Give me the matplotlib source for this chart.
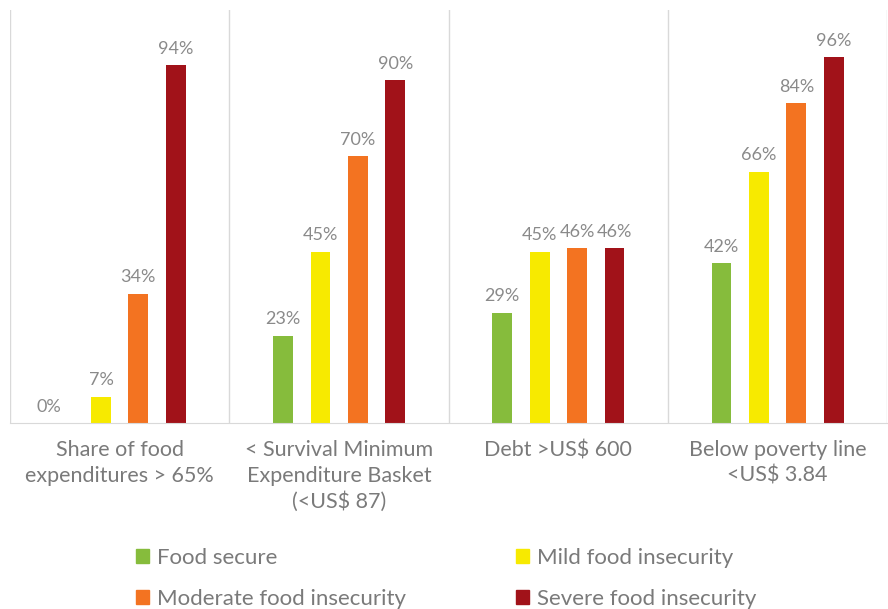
import matplotlib
matplotlib.use("Agg")
import matplotlib.pyplot as plt
import numpy as np
from matplotlib.patches import Patch

categories = ["Share of food\nexpenditures > 65%",
              "< Survival Minimum\nExpenditure Basket\n(<US$ 87)",
              "Debt >US$ 600",
              "Below poverty line\n<US$ 3.84"]
series_names = ["Food secure", "Mild food insecurity",
                "Moderate food insecurity", "Severe food insecurity"]
food_secure = [0, 23, 29, 42]
mild = [7, 45, 45, 66]
moderate = [34, 70, 46, 84]
severe = [94, 90, 46, 96]
colors = ["#86BC3C", "#F7EA00", "#F37321", "#A11219"]

plt.rcParams['font.family'] = ['Lato', 'DejaVu Sans']
fig = plt.figure(figsize=(8.88, 6.09), dpi=100)
ax = fig.add_axes([0.0113, 0.305, 0.988, 0.679])

x = np.arange(len(categories))
offsets = [-0.256, -0.085, 0.085, 0.256]
width = 0.09
grey = "#8a8a8a"
for vals, off, c, name in zip([food_secure, mild, moderate, severe], offsets, colors, series_names):
    ax.bar(x + off, vals, width, color=c, label=name)
    for xi, v in zip(x + off, vals):
        ax.text(xi - (0.065 if v == 0 else 0), v + 2.2, f"{v}%", ha="center", va="bottom",
                fontsize=13, color=grey)

ax.set_xlim(-0.5, 3.5)
ax.set_ylim(0, 108.5)
ax.set_yticks([])
ax.set_xticks([])
for s in ["top", "right", "left"]:
    ax.spines[s].set_visible(False)
ax.spines["bottom"].set_color("#d9d9d9")
for b in [-0.5, 0.5, 1.5, 2.5, 3.5]:
    ax.axvline(b, color="#d9d9d9", lw=1)

for xi, cat in zip(x, categories):
    ax.text(xi, -4.5, cat, ha="center", va="top", fontsize=15.5, color="#7a7a7a",
            linespacing=1.32)

order = [0, 2, 1, 3]
handles = [Patch(color=colors[i]) for i in order]
labels = [series_names[i] for i in order]
fig.legend(handles, labels, loc="lower left", bbox_to_anchor=(0.143, -0.014),
           ncol=2, frameon=False, labelcolor="#7a7a7a", borderaxespad=0,
           handlelength=0.6, handleheight=0.6, handletextpad=0.35,
           columnspacing=4.95, labelspacing=0.95, prop={'size': 16})

fig.savefig("out.png", dpi=100)
